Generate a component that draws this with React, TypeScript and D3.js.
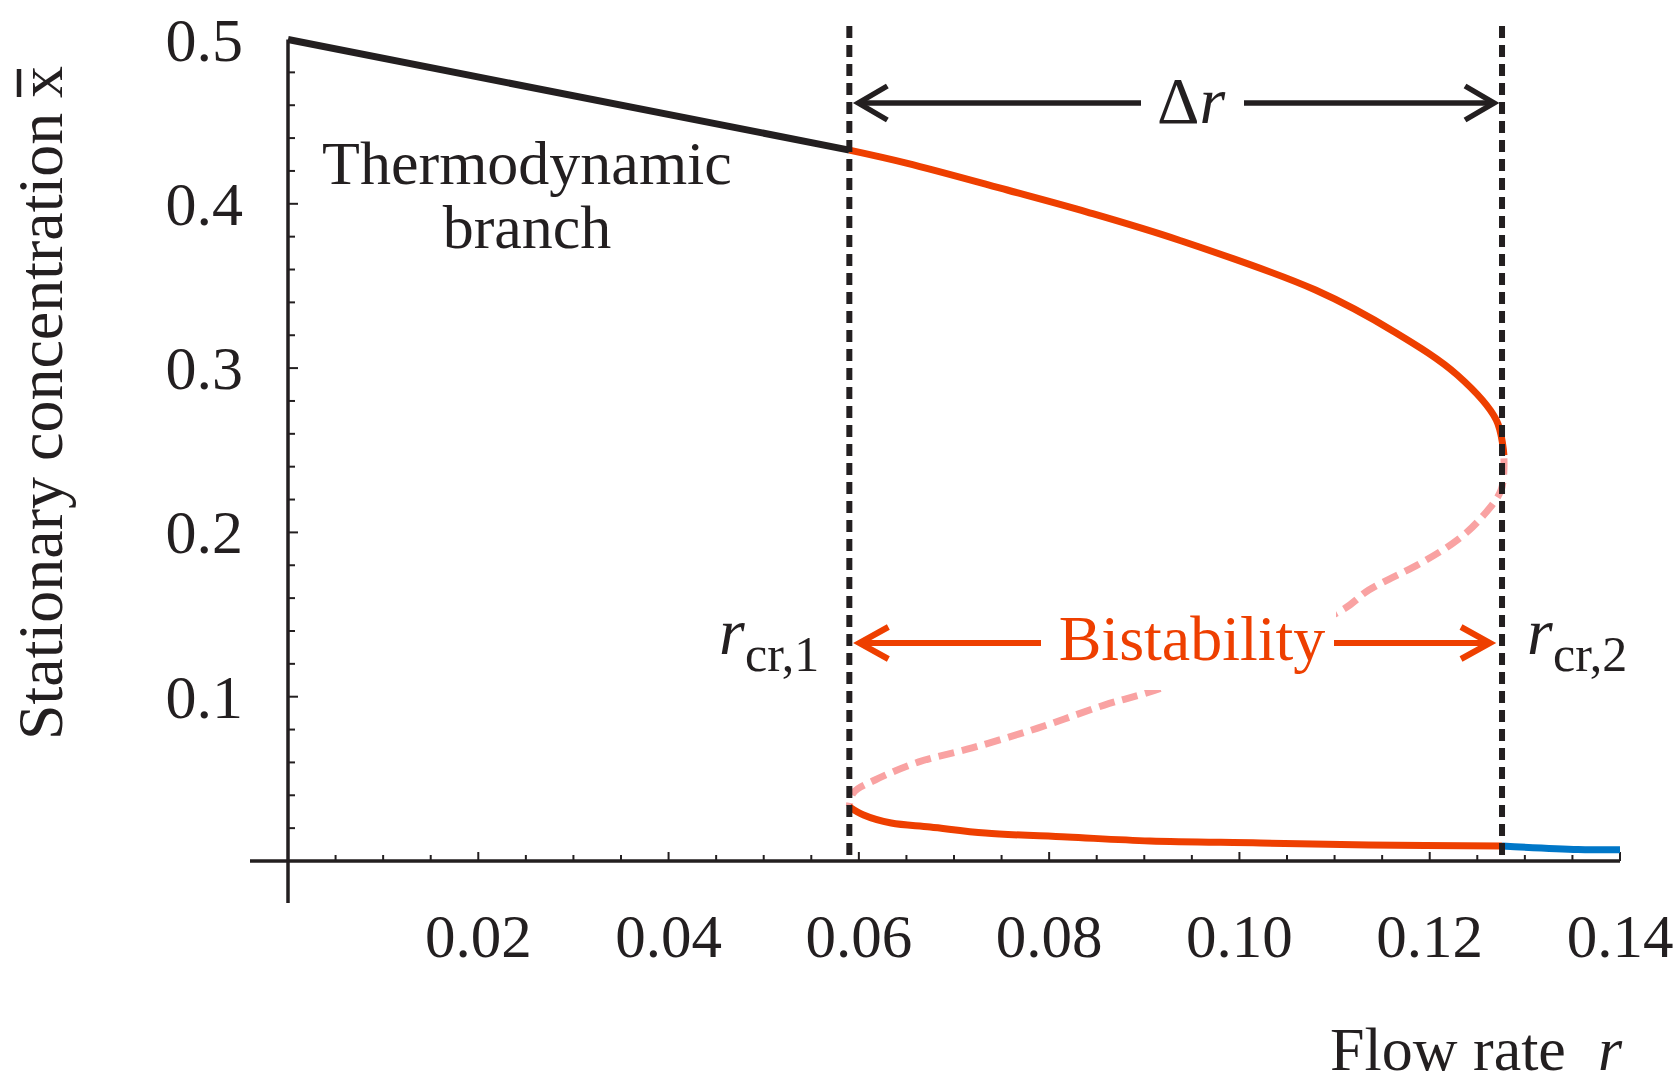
import React from "react";
import * as d3 from "d3";

// ---- data ----
const rCrit1 = 0.059;
const rCrit2 = 0.1276;

const thermoR = [0.0, 0.059];
const thermoX = [0.5, 0.4327];

const upperR = [0.059, 0.065, 0.0756, 0.084, 0.0936, 0.108, 0.1163, 0.1229, 0.127, 0.1278];
const upperX = [0.4327, 0.4248, 0.4084, 0.395, 0.378, 0.3475, 0.322, 0.2958, 0.2684, 0.247];

const midR = [0.1278, 0.1275, 0.1252, 0.1229, 0.1191, 0.1136, 0.1108, 0.0921, 0.0858, 0.0788, 0.0719, 0.0663, 0.0617, 0.0594, 0.059];
const midX = [0.245, 0.2258, 0.2075, 0.1954, 0.1814, 0.1649, 0.1528, 0.1059, 0.0949, 0.0809, 0.0688, 0.0603, 0.0493, 0.0414, 0.0335];

const lowerR = [0.059, 0.0605, 0.0634, 0.0675, 0.0733, 0.0819, 0.0906, 0.1022, 0.1136, 0.1276];
const lowerX = [0.033, 0.028, 0.0231, 0.0207, 0.017, 0.0146, 0.0122, 0.011, 0.0097, 0.0091];

const blueR = [0.1276, 0.1356, 0.14];
const blueX = [0.0091, 0.007, 0.0068];

const xTickValues = [0.02, 0.04, 0.06, 0.08, 0.1, 0.12, 0.14];
const xTickLabels = ["0.02", "0.04", "0.06", "0.08", "0.10", "0.12", "0.14"];
const yTickValues = [0.1, 0.2, 0.3, 0.4, 0.5];
const yTickLabels = ["0.1", "0.2", "0.3", "0.4", "0.5"];

const W = 1677;
const H = 1084;
const INK = "#231F20";
const RED = "#EE3F00";
const PINK = "#F9A2A2";
const BLUE = "#0077C8";
const FONT = "'Liberation Serif', 'Times New Roman', Times, serif";

export default function App() {
  const x = d3.scaleLinear().domain([0, 0.14]).range([288, 1620]);
  const y = d3.scaleLinear().domain([0, 0.5]).range([861, 39.5]);

  const line = d3
    .line<[number, number]>()
    .x((d) => x(d[0]))
    .y((d) => y(d[1]))
    .curve(d3.curveCatmullRom.alpha(0.5));
  const straight = d3
    .line<[number, number]>()
    .x((d) => x(d[0]))
    .y((d) => y(d[1]));

  const zip = (a: number[], b: number[]) => a.map((v, i) => [v, b[i]] as [number, number]);

  const xMinor = d3.range(1, 29).map((i) => i * 0.005);
  const yMinor = d3.range(1, 25).map((i) => i * 0.02);

  const x0 = x(0);
  const y0 = y(0);
  const xc1 = x(rCrit1);
  const xc2 = x(rCrit2);

  const chevron = (tipX: number, tipY: number, dir: number, len: number, half: number) =>
    `M${tipX + dir * len},${tipY - half} L${tipX},${tipY} L${tipX + dir * len},${tipY + half}`;

  const dArrowY = 103;
  const bArrowY = 643;

  return (
    <svg
      width={W}
      height={H}
      viewBox={`0 0 ${W} ${H}`}
      style={{ position: "absolute", left: 0, top: 0, background: "#fff", display: "block" }}
      fontFamily={FONT}
    >
      <rect x={0} y={0} width={W} height={H} fill="#fff" />

      {/* axes */}
      <line x1={250} x2={x(0.14)} y1={y0} y2={y0} stroke={INK} strokeWidth={3.5} />
      <line x1={x0} x2={x0} y1={903} y2={y(0.5)} stroke={INK} strokeWidth={3.5} />

      {xMinor.map((v, i) => {
        const major = Math.abs(v / 0.02 - Math.round(v / 0.02)) < 1e-6;
        return (
          <line key={"xm" + i} x1={x(v)} x2={x(v)} y1={y0} y2={y0 - (major ? 9 : 6)} stroke={INK} strokeWidth={2} />
        );
      })}
      {yMinor.map((v, i) => {
        const major = Math.abs(v / 0.1 - Math.round(v / 0.1)) < 1e-6;
        return (
          <line key={"ym" + i} x1={x0} x2={x0 + (major ? 10 : 7)} y1={y(v)} y2={y(v)} stroke={INK} strokeWidth={2} />
        );
      })}

      {xTickValues.map((v, i) => (
        <text key={"xl" + i} x={x(v)} y={957} textAnchor="middle" fontSize={61} fill={INK}>
          {xTickLabels[i]}
        </text>
      ))}
      {yTickValues.map((v, i) => (
        <text key={"yl" + i} x={243} y={y(v) + 21} textAnchor="end" fontSize={62} fill={INK}>
          {yTickLabels[i]}
        </text>
      ))}

      {/* axis titles */}
      <g transform="translate(62,740) rotate(-90)">
        <text x={0} y={0} fontSize={64} fill={INK}>
          Stationary concentration
        </text>
        <text x={642} y={0} fontSize={64} fill={INK}>
          x
        </text>
        <line x1={643} x2={671} y1={-43} y2={-43} stroke={INK} strokeWidth={4.5} />
      </g>
      <text x={1330} y={1070} fontSize={62} fill={INK}>
        Flow rate
      </text>
      <text x={1598} y={1070} fontSize={62} fill={INK} fontStyle="italic">
        r
      </text>

      {/* branches */}
      <path d={straight(zip(thermoR, thermoX)) || ""} fill="none" stroke={INK} strokeWidth={7} />
      <path d={line(zip(midR, midX)) || ""} fill="none" stroke={PINK} strokeWidth={7} strokeDasharray="16 8" />
      <path d={line(zip(upperR, upperX)) || ""} fill="none" stroke={RED} strokeWidth={7} strokeLinecap="butt" />
      <path d={line(zip(lowerR, lowerX)) || ""} fill="none" stroke={RED} strokeWidth={7} />
      <path d={line(zip(blueR, blueX)) || ""} fill="none" stroke={BLUE} strokeWidth={7} />

      {/* critical lines */}
      <line x1={xc1} x2={xc1} y1={26} y2={y0} stroke={INK} strokeWidth={6} strokeDasharray="12 7" />
      <line x1={xc2} x2={xc2} y1={26} y2={y0} stroke={INK} strokeWidth={6} strokeDasharray="12 7" />

      {/* thermodynamic label */}
      <text x={527} y={184} textAnchor="middle" fontSize={62} fill={INK}>
        Thermodynamic
      </text>
      <text x={527} y={248} textAnchor="middle" fontSize={62} fill={INK}>
        branch
      </text>

      {/* delta r arrow */}
      <line x1={xc1 + 10} x2={1141} y1={dArrowY} y2={dArrowY} stroke={INK} strokeWidth={5.5} />
      <line x1={1244} x2={xc2 - 8} y1={dArrowY} y2={dArrowY} stroke={INK} strokeWidth={5.5} />
      <path d={chevron(xc1 + 9, dArrowY, 1, 29, 17)} fill="none" stroke={INK} strokeWidth={5.5} />
      <path d={chevron(xc2 - 8, dArrowY, -1, 29, 17)} fill="none" stroke={INK} strokeWidth={5.5} />
      <text x={1191} y={123} textAnchor="middle" fontSize={66} fill={INK}>
        Δ<tspan fontStyle="italic">r</tspan>
      </text>

      {/* bistability arrow */}
      <rect x={1046} y={608} width={290} height={82} fill="#fff" />
      <line x1={xc1 + 10} x2={1041} y1={bArrowY} y2={bArrowY} stroke={RED} strokeWidth={6} />
      <line x1={1334} x2={xc2 - 12} y1={bArrowY} y2={bArrowY} stroke={RED} strokeWidth={6} />
      <path d={chevron(xc1 + 10, bArrowY, 1, 29, 16)} fill="none" stroke={RED} strokeWidth={6} />
      <path d={chevron(xc2 - 12, bArrowY, -1, 29, 16)} fill="none" stroke={RED} strokeWidth={6} />
      <text x={1192} y={660} textAnchor="middle" fontSize={64} fill={RED}>
        Bistability
      </text>

      {/* critical labels */}
      <text x={719} y={654} fontSize={66} fill={INK} fontStyle="italic">
        r
      </text>
      <text x={745} y={671} fontSize={50} fill={INK}>
        cr,1
      </text>
      <text x={1527} y={654} fontSize={66} fill={INK} fontStyle="italic">
        r
      </text>
      <text x={1553} y={671} fontSize={50} fill={INK}>
        cr,2
      </text>
    </svg>
  );
}
